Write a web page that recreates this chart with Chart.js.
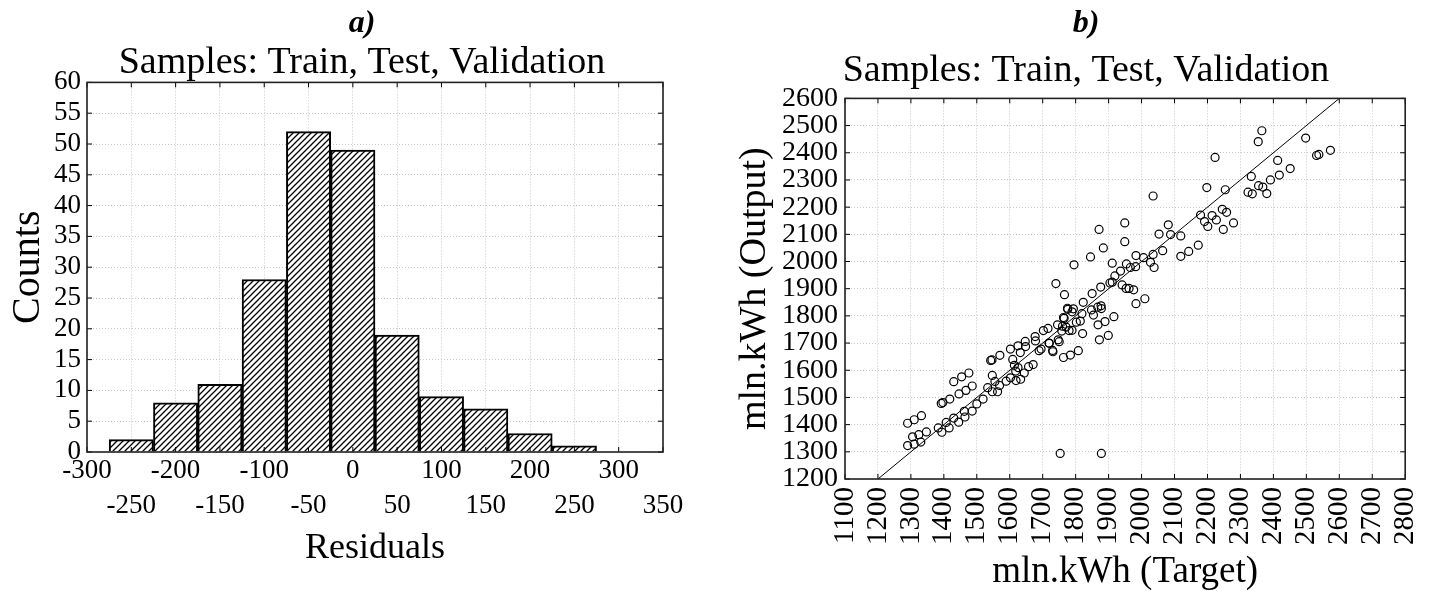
<!DOCTYPE html>
<html>
<head>
<meta charset="utf-8">
<script src="https://cdn.jsdelivr.net/npm/chart.js@4.4.1/dist/chart.umd.min.js"></script>
<style>
  html, body { margin: 0; padding: 0; background: #ffffff; }
  body { width: 1448px; height: 591px; position: relative; overflow: hidden; }
  canvas { position: absolute; top: 0; }
  #histo { left: 0; }
  #scatter { left: 724px; }
</style>
</head>
<body>
<canvas id="histo" width="724" height="591"></canvas>
<canvas id="scatter" width="724" height="591"></canvas>
<script>
// ---------------- data ----------------
const panelTitles = ['a)', 'b)'];
const subtitleText = 'Samples: Train, Test, Validation';

// histogram of residuals
const binCenters = [-250, -200, -150, -100, -50, 0, 50, 100, 150, 200, 250];
const binCounts  = [2, 8, 11, 28, 52, 49, 19, 9, 7, 3, 1];
const residualAxis = { min: -300, max: 350, step: 50 };
const countAxis = { min: 0, max: 60, step: 5 };

// scatter: target vs output (mln.kWh)
const targetValues = [
  1290,1310,1330,1305,1324,1347,1290,1310,1332,1383,1394,1416,1407,1430,1445,1464,1462,1486,1500,1519,
  1392,1397,1418,1446,1467,1486,1430,1454,1476,1533,1547,1563,1569,1555,1547,1589,1602,1619,1633,1644,
  1618,1625,1614,1609,1657,1671,1542,1546,1570,1602,1625,1632,1648,1647,1677,1678,1689,1695,1719,1730,
  1753,1878,
  1763,1784,1808,1731,1720,1747,1750,1702,1716,1745,1765,1760,1758,1771,1780,1789,1802,1814,1821,1776,
  1793,1789,1763,1775,1819,1848,1854,1867,1877,1878,1868,1872,1899,1889,1916,1850,1823,1766,1740,1876,
  1983,2010,
  1795,1845,1871,1884,1904,1911,1911,1919,1936,1941,1953,1962,1976,1949,1949,1954,1966,1982,1983,2006,
  2027,2035,2038,2035,2053,2064,2081,2088,2119,2119,2143,2172,2179,2191,2201,2198,2214,2227,2223,2245,
  2258,2248,2254,2279,2323,2336,2333,2354,2365,2355,2368,2380,2391,2413,2418,2451,2498,2531,2538,2573
];
const outputValues = [
  1323,1328,1336,1355,1363,1373,1405,1418,1433,1388,1372,1388,1408,1424,1409,1428,1449,1450,1476,1494,
  1478,1481,1494,1513,1526,1542,1558,1576,1590,1536,1521,1521,1544,1559,1581,1560,1572,1562,1567,1590,
  1597,1610,1618,1640,1613,1621,1636,1638,1655,1678,1690,1665,1687,1706,1724,1708,1672,1678,1700,1673,
  1294,1294,
  1647,1656,1672,1668,1699,1712,1705,1746,1754,1767,1791,1762,1744,1759,1746,1747,1777,1781,1735,1824,
  1826,1815,1794,1828,1808,1822,1803,1832,1837,1827,1767,1712,1728,1779,1797,1882,1850,1878,1919,1906,
  1845,1863,
  1988,2017,2118,2050,1921,1924,1994,1947,1965,1914,1901,1901,1896,2142,2073,1991,1978,1981,2022,2014,
  1997,2026,1978,2241,2101,2040,2135,2099,2094,2019,2037,2060,2171,2147,2129,2272,2169,2153,2383,2192,
  2181,2118,2264,2142,2255,2249,2313,2441,2481,2279,2274,2250,2300,2372,2318,2342,2454,2390,2394,2409
];
const identityLine = [1200, 2600];
const targetAxis = { min: 1100, max: 2800, step: 100 };
const outputAxis = { min: 1200, max: 2600, step: 100 };

// ---------------- styling helpers ----------------
const FONT = "'Liberation Serif', 'Times New Roman', serif";
Chart.defaults.font.family = FONT;
Chart.defaults.color = '#000';

function hatchPattern() {
  const c = document.createElement('canvas');
  c.width = 6; c.height = 6;
  const g = c.getContext('2d');
  g.fillStyle = '#fff';
  g.fillRect(0, 0, 6, 6);
  g.strokeStyle = '#000';
  g.lineWidth = 1.3;
  g.beginPath();
  g.moveTo(-1, 7); g.lineTo(7, -1);
  g.moveTo(-1, 1); g.lineTo(1, -1);
  g.moveTo(5, 7); g.lineTo(7, 5);
  g.stroke();
  return g.createPattern(c, 'repeat');
}

// frame + inward tick marks drawn through the chart's own scales
const framePlugin = {
  id: 'frame',
  afterDatasetsDraw(chart) {
    const { ctx, chartArea: a, scales } = chart;
    ctx.save();
    ctx.strokeStyle = '#000';
    ctx.lineWidth = 1;
    ctx.beginPath();
    scales.x.ticks.forEach(t => {
      const px = scales.x.getPixelForValue(t.value);
      ctx.moveTo(px, a.top); ctx.lineTo(px, a.top + 5);
      ctx.moveTo(px, a.bottom); ctx.lineTo(px, a.bottom - 5);
    });
    scales.y.ticks.forEach(t => {
      const py = scales.y.getPixelForValue(t.value);
      ctx.moveTo(a.left, py); ctx.lineTo(a.left + 5, py);
      ctx.moveTo(a.right, py); ctx.lineTo(a.right - 5, py);
    });
    ctx.stroke();
    ctx.lineWidth = 1.6;
    ctx.strokeStyle = '#222';
    ctx.strokeRect(a.left, a.top, a.right - a.left, a.bottom - a.top);
    ctx.restore();
  }
};

const gridOpts = { color: '#c8c8c8', lineWidth: 1, drawTicks: false, offset: false };
const borderOpts = { display: false, dash: [1, 2] };
const plain = v => String(v);

// empty right-hand box that reserves margin so titles stay centred on the canvas
function spacerAxis(width) {
  return {
    type: 'linear', position: 'right', display: true,
    grid: { display: false, drawTicks: false }, border: { display: false },
    ticks: { display: false }, title: { display: false },
    afterFit: s => { s.width = width; }
  };
}

function titleBlock(text, padBottomTitle, padBottomSub) {
  return {
    title: {
      display: true, text: text,
      font: { size: 32, style: 'italic', weight: 'bold', lineHeight: 1.2 },
      color: '#000',
      padding: { top: 5, bottom: padBottomTitle }
    },
    subtitle: {
      display: true, text: subtitleText,
      font: { size: 38, lineHeight: 1.0 },
      color: '#000',
      padding: { top: 0, bottom: padBottomSub }
    }
  };
}

// ---------------- a) histogram ----------------
new Chart(document.getElementById('histo'), {
  type: 'bar',
  data: {
    datasets: [{
      data: binCenters.map((c, i) => ({ x: c, y: binCounts[i] })),
      backgroundColor: hatchPattern(),
      borderColor: '#000',
      borderWidth: 2,
      barPercentage: 1,
      categoryPercentage: 1,
      grouped: false
    }]
  },
  options: {
    responsive: false,
    animation: false,
    events: [],
    layout: { padding: 0 },
    plugins: Object.assign({ legend: { display: false }, tooltip: { enabled: false } },
      titleBlock(panelTitles[0], 1, 0)),
    scales: {
      x: {
        type: 'linear',
        offset: false,
        min: residualAxis.min, max: residualAxis.max,
        grid: gridOpts, border: borderOpts,
        afterFit: s => { s.height = 139; },
        afterBuildTicks: s => {
          const t = [];
          for (let v = residualAxis.min; v <= residualAxis.max; v += residualAxis.step) t.push({ value: v });
          s.ticks = t;
        },
        ticks: {
          autoSkip: false, maxRotation: 0, minRotation: 0, padding: 2,
          font: { size: 27, lineHeight: 1.27 },
          callback: v => (v % 100 === 0 ? String(v) : ['', String(v)])
        },
        title: {
          display: true, text: 'Residuals',
          font: { size: 36, lineHeight: 1.0 },
          padding: { top: 0, bottom: 24 }
        }
      },
      y: {
        type: 'linear',
        min: countAxis.min, max: countAxis.max,
        grid: gridOpts, border: borderOpts,
        afterFit: s => { s.width = 87; },
        ticks: { stepSize: countAxis.step, autoSkip: false, padding: 6, font: { size: 27 }, callback: plain },
        title: {
          display: true, text: 'Counts',
          font: { size: 40, lineHeight: 1.0 },
          padding: { top: 8, bottom: 0 }
        }
      },
      pad: spacerAxis(61)
    }
  },
  plugins: [framePlugin]
});

// ---------------- b) scatter ----------------
new Chart(document.getElementById('scatter'), {
  type: 'scatter',
  data: {
    datasets: [
      {
        type: 'line',
        data: identityLine.map(v => ({ x: v, y: v })),
        borderColor: '#000',
        borderWidth: 1,
        pointRadius: 0,
        fill: false
      },
      {
        data: targetValues.map((t, i) => ({ x: t, y: outputValues[i] })),
        pointStyle: 'circle',
        pointRadius: 4,
        borderWidth: 1.2,
        borderColor: '#000',
        backgroundColor: 'rgba(0,0,0,0)'
      }
    ]
  },
  options: {
    responsive: false,
    animation: false,
    events: [],
    layout: { padding: 0 },
    plugins: Object.assign({ legend: { display: false }, tooltip: { enabled: false } },
      titleBlock(panelTitles[1], 9, 8)),
    scales: {
      x: {
        type: 'linear',
        min: targetAxis.min, max: targetAxis.max,
        grid: gridOpts, border: borderOpts,
        afterFit: s => { s.height = 112; },
        ticks: {
          stepSize: targetAxis.step, autoSkip: false,
          minRotation: 90, maxRotation: 90, padding: 8,
          font: { size: 29 }, callback: plain
        },
        title: {
          display: true, text: 'mln.kWh (Target)',
          font: { size: 37, lineHeight: 1.0 },
          padding: { top: 0, bottom: 0 }
        }
      },
      y: {
        type: 'linear',
        min: outputAxis.min, max: outputAxis.max,
        grid: gridOpts, border: borderOpts,
        afterFit: s => { s.width = 121; },
        ticks: { stepSize: outputAxis.step, autoSkip: false, padding: 7, font: { size: 28 }, callback: plain },
        title: {
          display: true, text: 'mln.kWh (Output)',
          font: { size: 38, lineHeight: 1.0 },
          padding: { top: 12, bottom: 0 }
        }
      },
      pad: spacerAxis(12)
    }
  },
  plugins: [framePlugin]
});
</script>
</body>
</html>
